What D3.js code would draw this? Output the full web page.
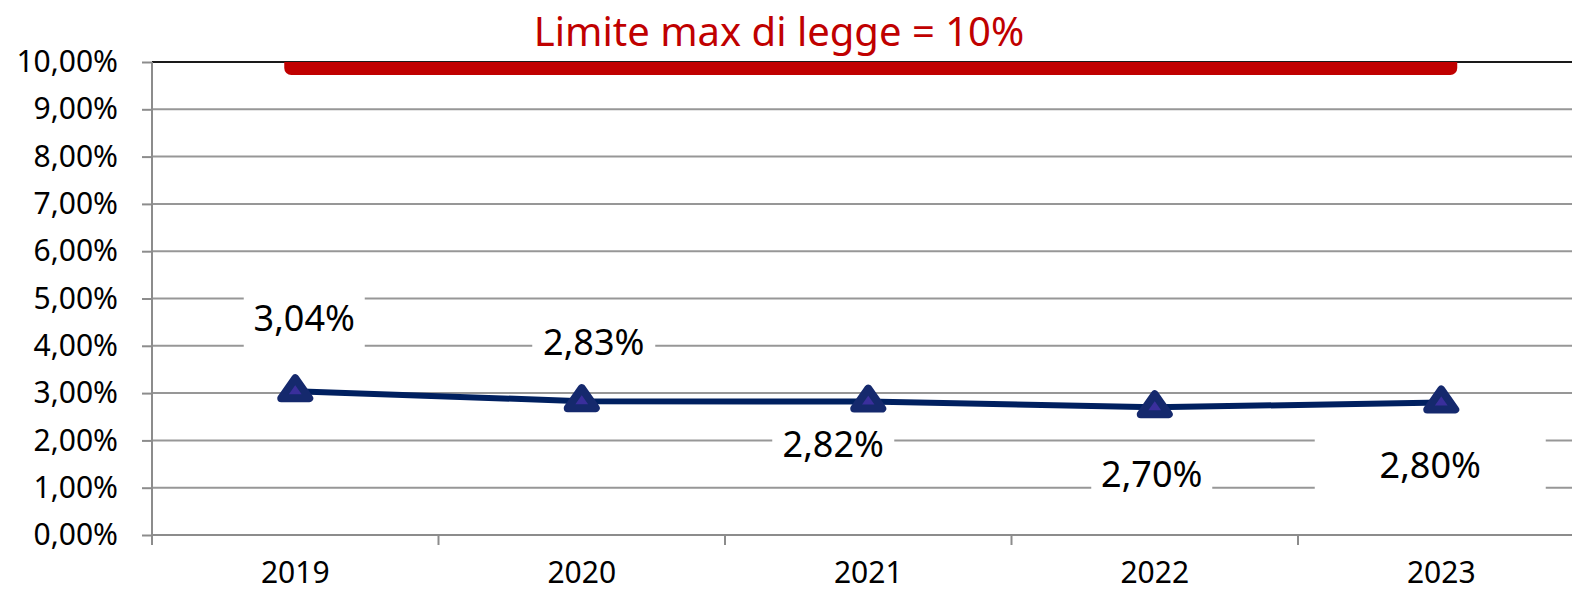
<!DOCTYPE html>
<html>
<head>
<meta charset="utf-8">
<script src="https://cdn.jsdelivr.net/npm/d3@7"></script>
<style>
  html, body { margin: 0; padding: 0; background: #fff; }
  svg { display: block; font-family: "Noto Sans", "Open Sans", sans-serif; }
</style>
</head>
<body>
<svg id="chart" width="1572" height="592"></svg>
<script>
const years = ["2019", "2020", "2021", "2022", "2023"]
const values = [3.04, 2.83, 2.82, 2.70, 2.80]
const valueLabels = ["3,04%", "2,83%", "2,82%", "2,70%", "2,80%"]
const yTicks = [0, 1, 2, 3, 4, 5, 6, 7, 8, 9, 10]
const limitValue = 10
const title = "Limite max di legge = 10%"

// manual label placement (Excel style), offsets from the point
const labelDx = [9, 12, -35, -3, -11]
const labelDy = [-60, -46, 55, 80, 75]
const labelBoxW = [121, 123, 122, 121, 231]

const WIDTH = 1572
const HEIGHT = 592
const plotLeft = 152, plotTop = 62, plotBottom = 535
const bandW = 286.5

const svg = d3.select('#chart')

const x = d3.scaleBand()
  .domain(years)
  .range([plotLeft, plotLeft + bandW * years.length])
  .padding(0)

const y = d3.scaleLinear()
  .domain([0, 10])
  .range([plotBottom, plotTop])

const fmt = v => d3.format('.2f')(v).replace('.', ',') + '%'

// gridlines
svg.append('g')
  .selectAll('line')
  .data(yTicks.filter(d => d > 0 && d < 10))
  .join('line')
  .attr('x1', plotLeft).attr('x2', WIDTH)
  .attr('y1', d => y(d)).attr('y2', d => y(d))
  .attr('stroke', '#979797')
  .attr('stroke-width', 2)

// top border line at 10%
svg.append('line')
  .attr('x1', plotLeft).attr('x2', WIDTH)
  .attr('y1', y(10)).attr('y2', y(10))
  .attr('stroke', '#1a1a1a')
  .attr('stroke-width', 2)

// y axis
const yAxis = svg.append('g')
  .attr('transform', `translate(${plotLeft},0)`)
  .call(d3.axisLeft(y).tickValues(yTicks).tickSize(10).tickPadding(24).tickFormat(fmt))
yAxis.select('.domain').remove()
yAxis.append('line')
  .attr('x1', 0).attr('x2', 0)
  .attr('y1', plotTop).attr('y2', plotBottom + 10)
  .attr('stroke', '#8c8c8c').attr('stroke-width', 2)
yAxis.selectAll('.tick line').attr('stroke', '#8c8c8c').attr('stroke-width', 2)
yAxis.selectAll('.tick text')
  .attr('fill', '#000')
  .style('font-size', '30px')
  .style('font-family', '"Noto Sans", sans-serif')

// x axis
const xAxis = svg.append('g')
  .attr('transform', `translate(0,${plotBottom})`)
xAxis.append('line')
  .attr('x1', plotLeft).attr('x2', WIDTH)
  .attr('y1', 0).attr('y2', 0)
  .attr('stroke', '#8c8c8c').attr('stroke-width', 2)
xAxis.selectAll('.bt')
  .data(years.slice(1))
  .join('line')
  .attr('class', 'bt')
  .attr('x1', d => x(d)).attr('x2', d => x(d))
  .attr('y1', 0).attr('y2', 10)
  .attr('stroke', '#8c8c8c').attr('stroke-width', 2)
xAxis.selectAll('text')
  .data(years)
  .join('text')
  .attr('x', d => x(d) + x.bandwidth() / 2)
  .attr('y', 48)
  .attr('text-anchor', 'middle')
  .style('font-size', '30px')
  .text(d => d)

// limit bar at 10%
const clip = svg.append('clipPath').attr('id', 'plotclip')
clip.append('rect').attr('x', 0).attr('y', plotTop).attr('width', WIDTH).attr('height', plotBottom - plotTop)
svg.append('rect')
  .attr('clip-path', 'url(#plotclip)')
  .attr('x', x(years[0]) + x.bandwidth() / 2 - 11)
  .attr('width', (x(years[4]) + x.bandwidth() / 2 + 16) - (x(years[0]) + x.bandwidth() / 2 - 11))
  .attr('y', y(limitValue) - 14)
  .attr('height', 27)
  .attr('rx', 7)
  .attr('fill', '#c00000')

svg.append('text')
  .attr('x', 779)
  .attr('y', 46)
  .attr('text-anchor', 'middle')
  .attr('fill', '#c00000')
  .style('font-size', '40px')
  .text(title)

const pts = years.map((d, i) => ({ year: d, v: values[i], i }))
const cx = d => x(d.year) + x.bandwidth() / 2

// label backgrounds (hide gridlines like the original)
const labels = svg.append('g')
labels.selectAll('rect')
  .data(pts)
  .join('rect')
  .attr('x', d => cx(d) + labelDx[d.i] - labelBoxW[d.i] / 2)
  .attr('y', d => y(d.v) + labelDy[d.i] - 42)
  .attr('width', d => labelBoxW[d.i])
  .attr('height', 58)
  .attr('fill', '#fff')
labels.selectAll('text')
  .data(pts)
  .join('text')
  .attr('x', d => cx(d) + labelDx[d.i])
  .attr('y', d => y(d.v) + labelDy[d.i])
  .attr('text-anchor', 'middle')
  .style('font-size', '36px')
  .text(d => valueLabels[d.i])

// series line
svg.append('path')
  .datum(pts)
  .attr('fill', 'none')
  .attr('stroke', '#002060')
  .attr('stroke-width', 6)
  .attr('d', d3.line().x(cx).y(d => y(d.v)))

// triangle markers
const tri = 'M0,-13L14,7L-14,7Z'
svg.append('g')
  .selectAll('path')
  .data(pts)
  .join('path')
  .attr('transform', d => `translate(${cx(d)},${y(d.v)})`)
  .attr('d', tri)
  .attr('fill', '#3a2f9c')
  .attr('stroke', '#15296d')
  .attr('stroke-width', 8)
  .attr('stroke-linejoin', 'round')
</script>
</body>
</html>
